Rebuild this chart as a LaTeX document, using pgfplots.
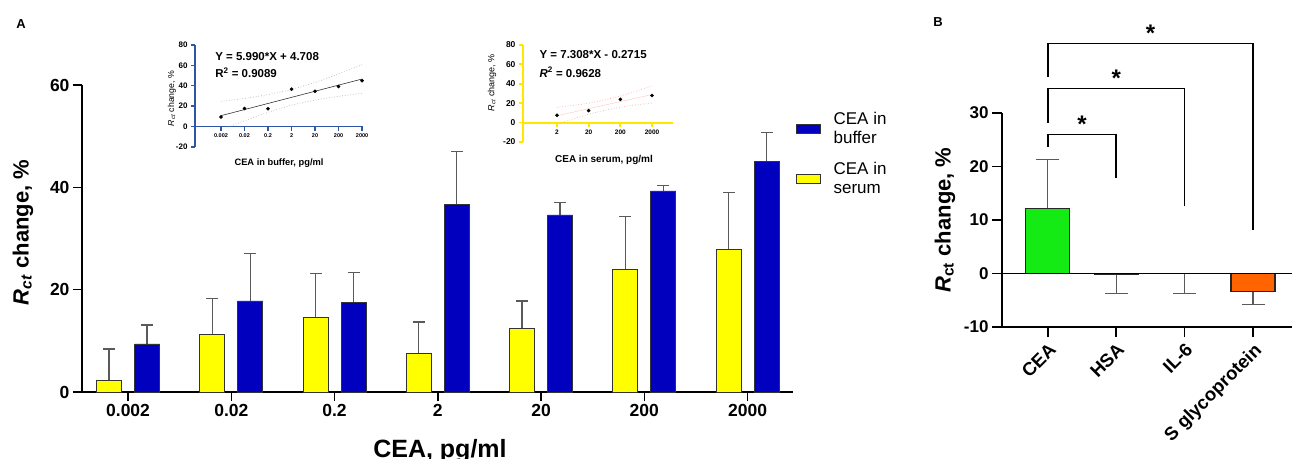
\documentclass[border=0pt]{standalone}
\usepackage{pgfplots}
\pgfplotsset{compat=1.18}
\usepackage{fontspec}
\setmainfont{Liberation Sans}
\definecolor{barblue}{RGB}{0,0,190}
\definecolor{baryellow}{RGB}{255,255,0}
\definecolor{bargreen}{RGB}{20,235,20}
\definecolor{barorange}{RGB}{255,100,0}
\definecolor{insetblue}{RGB}{47,85,165}
\definecolor{insetyellow}{RGB}{255,232,0}
\definecolor{errgray}{RGB}{90,90,90}
\begin{document}
\begin{tikzpicture}
\useasboundingbox (0,0) rectangle (1292pt,458pt);
\node[font=\fontsize{13}{13}\selectfont\bfseries] at (21pt,434pt) {A};
\node[font=\fontsize{13}{13}\selectfont\bfseries] at (938pt,436pt) {B};

% ---------------- Panel A main ----------------
\begin{axis}[at={(82pt,66pt)}, anchor=south west, scale only axis,
  width=711pt, height=307pt,
  xmin=-0.446, xmax=6.44, ymin=0, ymax=60,
  axis x line=bottom, axis y line=left,
  axis line style={-, line width=1.6pt, black},
  tick style={black, line width=1.6pt},
  tick align=outside, major tick length=9pt,
  xtick={0,...,6}, xticklabels={0.002,0.02,0.2,2,20,200,2000},
  ytick={0,20,40,60}, yticklabels={0,20,40,60},
  ticklabel style={font=\fontsize{17.5}{17.5}\selectfont\bfseries},
  xlabel={CEA, pg/ml},
  ylabel={\textit{R}\textsubscript{\textit{ct}} change, \%},
  xlabel style={font=\fontsize{25}{25}\selectfont\bfseries, at={(axis description cs:0.5035,-0.212)}, anchor=base},
  ylabel style={font=\fontsize{22}{22}\selectfont\bfseries, at={(axis description cs:-0.083,0.52)}, anchor=center},
  legend cell align=left,
  legend style={draw=none, fill=none, at={(axis description cs:1.0,0.925)}, anchor=north west,
    font=\fontsize{17}{19}\selectfont, nodes={align=left, inner sep=2pt}, row sep=13pt},
  clip=false]
% error bar stems (drawn first, bars cover the lower part)
\addplot[ycomb, errgray, line width=1.2pt, forget plot] coordinates {
  (0.184,13.1) (1.184,27.0) (2.184,23.4) (3.184,47.0) (4.184,37.0) (5.184,40.3) (6.184,50.7)};
\addplot[ycomb, errgray, line width=1.2pt, forget plot] coordinates {
  (-0.184,8.4) (0.816,18.2) (1.816,23.2) (2.816,13.7) (3.816,17.8) (4.816,34.3) (5.816,39.0)};
\addplot[only marks, mark=-, mark size=6pt, mark options={errgray, line width=1.2pt}, forget plot] coordinates {
  (0.184,13.1) (1.184,27.0) (2.184,23.4) (3.184,47.0) (4.184,37.0) (5.184,40.3) (6.184,50.7)};
\addplot[only marks, mark=-, mark size=6pt, mark options={errgray, line width=1.2pt}, forget plot] coordinates {
  (-0.184,8.4) (0.816,18.2) (1.816,23.2) (2.816,13.7) (3.816,17.8) (4.816,34.3) (5.816,39.0)};
% bars
\addplot[ybar, bar width=25pt, bar shift=19pt, fill=barblue, draw=black!80, line width=0.8pt,
  legend image code/.code={\draw[fill=barblue, draw=black!80, line width=0.8pt] (0pt,-4.5pt) rectangle (24pt,4.5pt); \path[draw=none, fill=none] (24pt,0pt) -- (35pt,0pt);}]
coordinates {(0,9.4) (1,17.8) (2,17.5) (3,36.7) (4,34.6) (5,39.3) (6,45.0)};
\addlegendentry{CEA in\\buffer}
\addplot[ybar, bar width=25pt, bar shift=-19pt, fill=baryellow, draw=black!80, line width=0.8pt,
  legend image code/.code={\draw[fill=baryellow, draw=black!80, line width=0.8pt] (0pt,-4.5pt) rectangle (24pt,4.5pt); \path[draw=none, fill=none] (24pt,0pt) -- (35pt,0pt);}]
coordinates {(0,2.3) (1,11.3) (2,14.6) (3,7.6) (4,12.4) (5,24.0) (6,27.9)};
\addlegendentry{CEA in\\serum}
\end{axis}

% ---------------- Inset 1 (buffer) ----------------
\begin{axis}[at={(195pt,311pt)}, anchor=south west, scale only axis,
  width=168pt, height=102pt,
  xmin=-0.106, xmax=7.04, ymin=-20, ymax=80,
  axis x line=middle, axis y line=left,
  axis line style={-, line width=1.6pt, insetblue},
  tick style={insetblue, line width=1.4pt},
  tick align=outside, major tick length=4pt,
  hide obscured y ticks=false,
  xtick={1,...,7}, xticklabels={0.002,0.02,0.2,2,20,200,2000},
  ytick={-20,0,20,40,60,80}, yticklabels={-20,0,20,40,60,80},
  xticklabel style={font=\fontsize{5.5}{5.5}\selectfont\bfseries},
  yticklabel style={font=\fontsize{8}{8}\selectfont\bfseries},
  xlabel={CEA in buffer, pg/ml},
  ylabel={\textit{R}\textsubscript{\textit{ct}} change, \%},
  xlabel style={font=\fontsize{9.3}{9.3}\selectfont\bfseries, at={(axis description cs:0.5,-0.157)}, anchor=center},
  ylabel style={font=\fontsize{8.7}{8.7}\selectfont, at={(axis description cs:-0.137,0.475)}, anchor=center, rotate=0},
  clip=false]
\addplot[gray!60, dotted, line width=0.7pt, smooth] coordinates {(1,24.70)(2,27.67)(3,31.37)(4,36.44)(5,43.35)(6,51.63)(7,60.64)};
\addplot[gray!60, dotted, line width=0.7pt, smooth] coordinates {(1.3,-0.5)(2,5.71)(3,13.99)(4,20.90)(5,25.97)(6,29.67)(7,32.64)};
\addplot[black!80, line width=0.6pt] coordinates {(1,10.70)(7,46.64)};
\addplot[only marks, mark=*, mark size=1.6pt, black] coordinates {(1,9.4)(2,17.8)(3,17.5)(4,36.7)(5,34.6)(6,39.3)(7,45.0)};
\node[anchor=west, font=\fontsize{11.5}{11.5}\selectfont\bfseries] at (axis description cs:0.1,0.89) {Y = 5.990*X + 4.708};
\node[anchor=west, font=\fontsize{11.5}{11.5}\selectfont\bfseries] at (axis description cs:0.1,0.725) {R\textsuperscript{2} = 0.9089};
\end{axis}

% ---------------- Inset 2 (serum) ----------------
\begin{axis}[at={(523pt,316pt)}, anchor=south west, scale only axis,
  width=150pt, height=97pt,
  xmin=-0.07, xmax=4.66, ymin=-20, ymax=80,
  axis x line=middle, axis y line=left,
  axis line style={-, line width=2pt, insetyellow},
  tick style={insetyellow, line width=1.8pt},
  tick align=outside, major tick length=4pt,
  hide obscured y ticks=false,
  xtick={1,...,4}, xticklabels={2,20,200,2000},
  ytick={-20,0,20,40,60,80}, yticklabels={-20,0,20,40,60,80},
  xticklabel style={font=\fontsize{6.5}{6.5}\selectfont\bfseries},
  yticklabel style={font=\fontsize{8.5}{8.5}\selectfont\bfseries},
  xlabel={CEA in serum, pg/ml},
  ylabel={\textit{R}\textsubscript{\textit{ct}} change, \%},
  xlabel style={font=\fontsize{10}{10}\selectfont\bfseries, at={(axis description cs:0.54,-0.186)}, anchor=center},
  ylabel style={font=\fontsize{9}{9}\selectfont, at={(axis description cs:-0.207,0.61)}, anchor=center, rotate=0},
  clip=false]
\addplot[red!35, dotted, line width=0.7pt, smooth] coordinates {(1,15.83)(2,20.09)(3,27.40)(4,37.75)};
\addplot[red!35, dotted, line width=0.7pt, smooth] coordinates {(1.15,-0.1)(2,8.59)(3,15.90)(4,20.17)};
\addplot[red!20, line width=0.5pt] coordinates {(1,7.04)(4,28.96)};
\addplot[only marks, mark=*, mark size=1.6pt, black] coordinates {(1,7.6)(2,12.4)(3,24.0)(4,27.9)};
\node[anchor=west, font=\fontsize{11.5}{11.5}\selectfont\bfseries] at (axis description cs:0.087,0.897) {Y = 7.308*X - 0.2715};
\node[anchor=west, font=\fontsize{11.5}{11.5}\selectfont\bfseries] at (axis description cs:0.087,0.72) {\textit{R}\textsuperscript{2} = 0.9628};
\end{axis}

% ---------------- Panel B ----------------
\begin{axis}[at={(1002pt,131pt)}, anchor=south west, scale only axis,
  width=290pt, height=214pt,
  xmin=-0.67, xmax=3.57, ymin=-10, ymax=30,
  axis x line=bottom, axis y line=left,
  axis line style={-, line width=1.6pt, black},
  tick style={black, line width=1.6pt},
  tick align=outside, major tick length=10pt,
  xtick={0,1,2,3}, xticklabels={CEA,HSA,IL-6,S glycoprotein},
  ytick={-10,0,10,20,30}, yticklabels={-10,0,10,20,30},
  yticklabel style={font=\fontsize{17}{17}\selectfont\bfseries},
  xticklabel style={font=\fontsize{18.5}{18.5}\selectfont\bfseries, rotate=45, anchor=north east},
  ylabel={\textit{R}\textsubscript{ct} change, \%},
  ylabel style={font=\fontsize{22}{22}\selectfont\bfseries, at={(axis description cs:-0.197,0.5)}, anchor=center},
  clip=false]
% error bar stems and caps
\addplot[ycomb, errgray, line width=1.2pt] coordinates {(0,21.3) (1,-3.7) (2,-3.7) (3,-5.8)};
\addplot[only marks, mark=-, mark size=11.5pt, mark options={errgray, line width=1.2pt}] coordinates {(0,21.3) (1,-3.7) (2,-3.7) (3,-5.8)};
% bars
\addplot[ybar, bar width=44pt, bar shift=0pt, fill=bargreen, draw=black!85, line width=1.2pt] coordinates {(0,12.2)};
\addplot[ybar, bar width=44pt, bar shift=0pt, fill=white, draw=black!85, line width=1.2pt] coordinates {(1,-0.2)};
\addplot[ybar, bar width=44pt, bar shift=0pt, fill=none, draw=none] coordinates {(2,0)};
\addplot[ybar, bar width=44pt, bar shift=0pt, fill=barorange, draw=black!85, line width=1.2pt] coordinates {(3,-3.3)};
\addplot[black, line width=1.6pt] coordinates {(-0.67,0)(3.57,0)};
% significance brackets
\addplot[black, line width=1.5pt] coordinates {(0,23.7)(0,26.0)(1,26.0)(1,17.8)};
\addplot[black, line width=1.5pt] coordinates {(0,28.2)(0,34.6)(2,34.6)(2,12.7)};
\addplot[black, line width=1.5pt] coordinates {(0,36.8)(0,43.0)(3,43.0)(3,8.2)};
\node[anchor=base, font=\fontsize{24}{24}\selectfont\bfseries] at (axis cs:0.5,26.3) {*};
\node[anchor=base, font=\fontsize{24}{24}\selectfont\bfseries] at (axis cs:1.0,34.9) {*};
\node[anchor=base, font=\fontsize{24}{24}\selectfont\bfseries] at (axis cs:1.5,43.3) {*};
\end{axis}
\end{tikzpicture}
\end{document}
